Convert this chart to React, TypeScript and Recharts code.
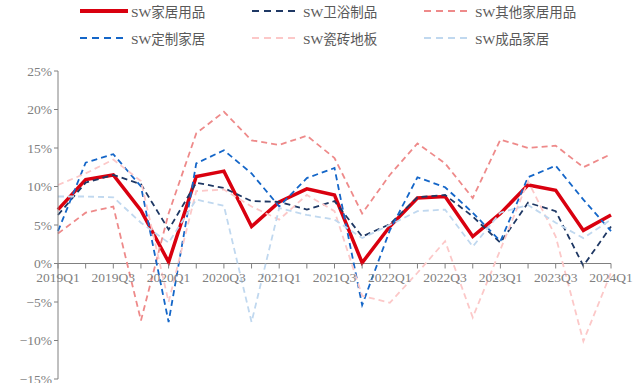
import React from 'react';
import { LineChart, Line, XAxis, YAxis, ReferenceLine } from 'recharts';

const quarters = [
    '2019Q1', '2019Q2', '2019Q3', '2019Q4',
    '2020Q1', '2020Q2', '2020Q3', '2020Q4',
    '2021Q1', '2021Q2', '2021Q3', '2021Q4',
    '2022Q1', '2022Q2', '2022Q3', '2022Q4',
    '2023Q1', '2023Q2', '2023Q3', '2023Q4',
    '2024Q1'
];

// quarterly growth, %
const homeGoods = [7.0, 10.9, 11.5, 6.9, 0.2, 11.3, 12.0, 4.8, 8.0, 9.7, 8.9, 0.1, 4.8, 8.5, 8.7, 3.5, 6.5, 10.2, 9.5, 4.3, 6.3];
const bathroom = [6.3, 10.5, 11.5, 10.3, 4.4, 10.5, 9.8, 8.1, 8.0, 7.0, 8.1, 3.5, 5.1, 8.6, 8.9, 6.1, 2.7, 7.9, 6.8, -0.3, 4.8];
const otherHome = [3.9, 6.6, 7.4, -7.4, 6.5, 16.9, 19.7, 16.0, 15.4, 16.6, 13.7, 6.5, 11.5, 15.6, 13.0, 8.5, 16.1, 15.0, 15.3, 12.5, 14.2];
const customFurniture = [4.2, 13.1, 14.2, 10.0, -7.6, 13.0, 14.7, 11.7, 7.4, 11.1, 12.4, -5.4, 4.3, 11.2, 9.9, 6.6, 2.9, 11.2, 12.7, 8.3, 4.2];
const tileFloor = [10.2, 11.7, 13.5, 10.7, -5.0, 9.4, 9.6, 7.4, 5.7, 8.9, 6.8, -4.2, -5.1, -1.2, 2.9, -7.0, 1.8, 10.7, 3.5, -10.1, -1.2];
const finishedFurniture = [8.7, 8.7, 8.6, 5.3, 2.7, 8.3, 7.5, -7.6, 7.2, 6.3, 5.7, 3.3, 5.0, 6.8, 7.0, 2.2, 6.6, 7.6, 5.3, 3.3, 5.7];

const yTicks = [-15, -10, -5, 0, 5, 10, 15, 20, 25];

const series = [
    { key: 'home', name: 'SW家居用品', values: homeGoods, color: '#D9000F', width: 3.5, dash: undefined },
    { key: 'bath', name: 'SW卫浴制品', values: bathroom, color: '#1F3864', width: 1.8, dash: '6 4' },
    { key: 'other', name: 'SW其他家居用品', values: otherHome, color: '#EE8A8A', width: 1.8, dash: '6 4' },
    { key: 'custom', name: 'SW定制家居', values: customFurniture, color: '#1466C8', width: 1.8, dash: '6 4' },
    { key: 'tile', name: 'SW瓷砖地板', values: tileFloor, color: '#FCC8C8', width: 1.8, dash: '6 4' },
    { key: 'finished', name: 'SW成品家居', values: finishedFurniture, color: '#C0D8EF', width: 1.8, dash: '6 4' },
];

const data = quarters.map((q, i) => {
    const row: Record<string, string | number> = { q };
    series.forEach((s) => { row[s.key] = s.values[i]; });
    return row;
});

const WIDTH = 644;
const HEIGHT = 383;
const MARGIN = { top: 71, right: 33, bottom: 3, left: 8 };
const X_AXIS_H = 1;
const Y_MIN = -15;
const Y_MAX = 25;
const plotH = HEIGHT - MARGIN.top - MARGIN.bottom - X_AXIS_H;
const zeroY = MARGIN.top + plotH * (Y_MAX / (Y_MAX - Y_MIN));

const AXIS = '#808080';
const FONT = '"Liberation Serif", "Times New Roman", "Noto Sans CJK SC", serif';

const fmtPct = (v: number) => `${v < 0 ? '−' : ''}${Math.abs(v)}%`;

// x axis sits on the zero line, so draw the ticks there
const QuarterTick = (props: any) => {
    const { x, payload, index } = props;
    return (
        <g>
            <line x1={x} x2={x} y1={zeroY} y2={zeroY + 5} stroke={AXIS} />
            {index % 2 === 0 && (
                <text x={x} y={zeroY + 18} textAnchor="middle" fill={AXIS} fontSize={13.5} fontFamily={FONT}>
                    {payload.value}
                </text>
            )}
        </g>
    );
};

function LegendBlock() {
    return (
        <div style={{ position: 'absolute', left: 80, top: 1, width: 540, display: 'grid', gridTemplateColumns: '172px 172px 172px', rowGap: 7 }}>
            {series.map((s) => (
                <div key={s.key} style={{ display: 'flex', alignItems: 'center', height: 20 }}>
                    <svg width={48} height={8} style={{ marginRight: 3 }}>
                        <line x1={0} x2={48} y1={4} y2={4} stroke={s.color}
                            strokeWidth={s.dash ? 2 : 4} strokeDasharray={s.dash ? '7 5' : undefined} />
                    </svg>
                    <span style={{ fontFamily: FONT, fontSize: 13.5, color: '#595959', whiteSpace: 'nowrap' }}>{s.name}</span>
                </div>
            ))}
        </div>
    );
}

export default function App() {
    return (
        <div style={{ position: 'absolute', left: 0, top: 0, width: WIDTH, height: HEIGHT, background: '#fff' }}>
            <LegendBlock />
            <LineChart width={WIDTH} height={HEIGHT} data={data} margin={MARGIN}>
                <XAxis
                    dataKey="q"
                    height={X_AXIS_H}
                    axisLine={false}
                    tickLine={false}
                    interval={0}
                    tick={<QuarterTick />}
                />
                <YAxis
                    width={50}
                    domain={[Y_MIN, Y_MAX]}
                    ticks={yTicks}
                    interval={0}
                    tickFormatter={fmtPct}
                    axisLine={{ stroke: AXIS }}
                    tickLine={{ stroke: AXIS }}
                    tickSize={4}
                    tick={{ fontSize: 13.5, fill: AXIS, fontFamily: FONT }}
                />
                <ReferenceLine y={0} stroke={AXIS} />
                {series.map((s) => (
                    <Line
                        key={s.key}
                        type="linear"
                        dataKey={s.key}
                        name={s.name}
                        stroke={s.color}
                        strokeWidth={s.width}
                        strokeDasharray={s.dash}
                        dot={false}
                        activeDot={false}
                        isAnimationActive={false}
                    />
                ))}
            </LineChart>
        </div>
    );
}
